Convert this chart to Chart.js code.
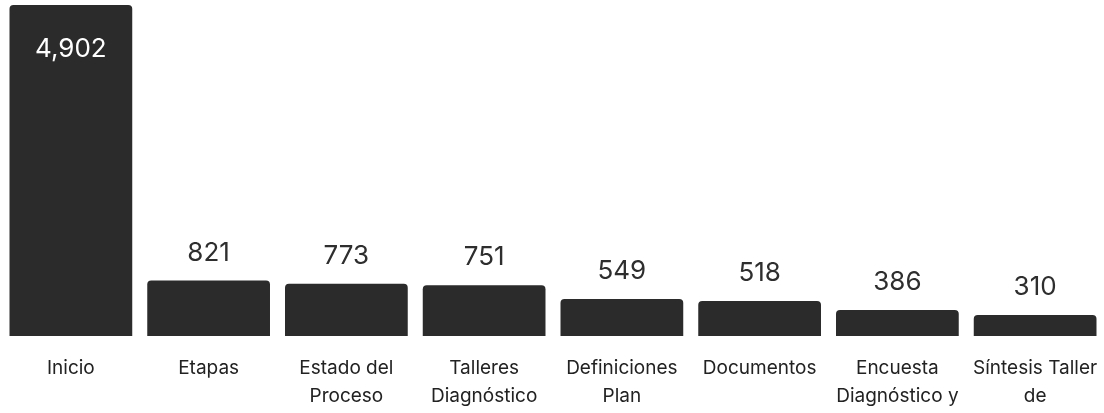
<!DOCTYPE html>
<html>
<head>
<meta charset="utf-8">
<script src="https://cdn.jsdelivr.net/npm/chart.js@4.4.1/dist/chart.umd.min.js"></script>
<style>
  html, body { margin: 0; padding: 0; background: #fff; }
  #wrap { width: 1104px; height: 413px; position: relative; }
</style>
</head>
<body>
<div id="wrap"><canvas id="visitsChart"></canvas></div>
<script>
// Page visits per section
const categories = [
    ['Inicio'],
    ['Etapas'],
    ['Estado del', 'Proceso'],
    ['Talleres', 'Diagnóstico'],
    ['Definiciones', 'Plan'],
    ['Documentos'],
    ['Encuesta', 'Diagnóstico y'],
    ['Síntesis Taller', 'de']
];
const visits = [4902, 821, 773, 751, 549, 518, 386, 310];

const BAR_COLOR = '#2b2b2b';
const FONT = "Inter, 'Noto Sans', sans-serif";

// draws the value on top of each bar (inside for tall bars)
const valueLabels = {
    id: 'valueLabels',
    afterDatasetsDraw(chart) {
        const ctx = chart.ctx;
        const meta = chart.getDatasetMeta(0);
        ctx.save();
        ctx.font = '26px ' + FONT;
        ctx.textAlign = 'center';
        meta.data.forEach((bar, i) => {
            const text = visits[i].toLocaleString('en-US');
            const h = bar.base - bar.y;
            if (h > 120) {
                ctx.fillStyle = '#ffffff';
                ctx.textBaseline = 'top';
                ctx.fillText(text, bar.x, bar.y + 31);
            } else {
                ctx.fillStyle = '#2e2e2e';
                ctx.textBaseline = 'alphabetic';
                ctx.fillText(text, bar.x, bar.y - 20);
            }
        });
        ctx.restore();
    }
};

new Chart(document.getElementById('visitsChart'), {
    type: 'bar',
    data: {
        labels: categories,
        datasets: [{
            data: visits,
            backgroundColor: BAR_COLOR,
            borderRadius: { topLeft: 4, topRight: 4, bottomLeft: 0, bottomRight: 0 },
            borderSkipped: false,
            categoryPercentage: 0.891,
            barPercentage: 1
        }]
    },
    options: {
        responsive: true,
        maintainAspectRatio: false,
        animation: false,
        layout: { padding: { top: 5, left: 2, right: -2, bottom: 0 } },
        plugins: {
            legend: { display: false },
            tooltip: { enabled: false }
        },
        scales: {
            x: {
                grid: { display: false, drawTicks: false },
                border: { display: false },
                ticks: {
                    color: '#222',
                    padding: 18,
                    maxRotation: 0,
                    autoSkip: false,
                    font: { family: FONT, size: 19, lineHeight: 1.47 }
                },
                afterFit(scale) {
                    // label band below the bars, no edge padding
                    scale.height = 77;
                    scale.paddingLeft = 0;
                    scale.paddingRight = 0;
                }
            },
            y: {
                display: false,
                min: 0,
                max: Math.max(...visits)
            }
        }
    },
    plugins: [valueLabels]
});
</script>
</body>
</html>
